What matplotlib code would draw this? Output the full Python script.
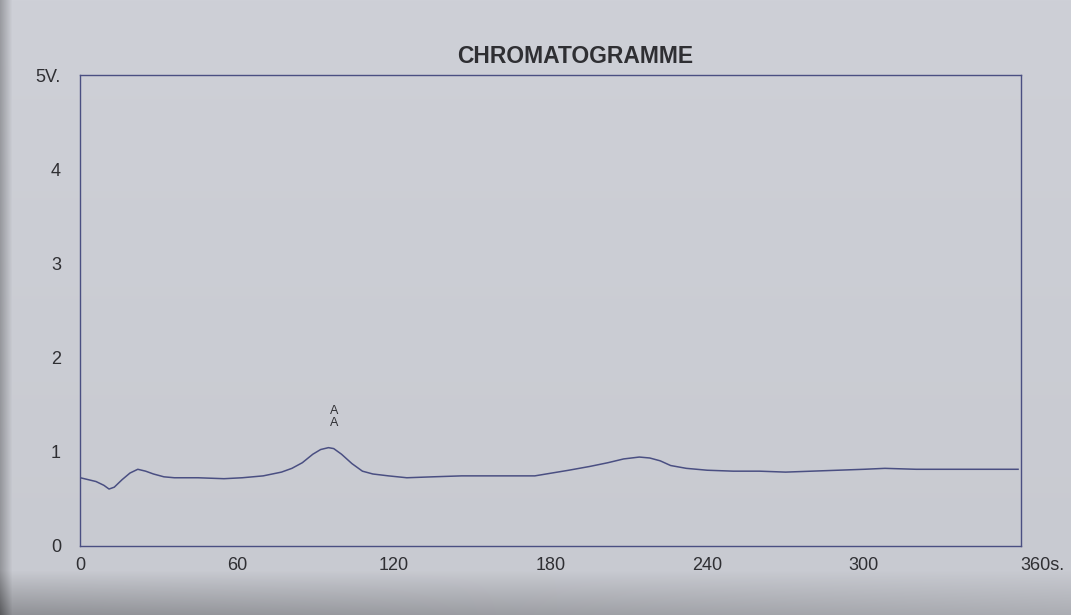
import numpy as np
import matplotlib.pyplot as plt
from matplotlib.transforms import ScaledTranslation

# retention time (s) and detector signal (V)
temps = [0, 3, 6, 9, 11, 13, 16, 19, 22, 25, 28, 32, 36, 45, 55, 62, 70, 77, 81,
         85, 89, 92, 95, 97, 100, 104, 108, 112, 118, 125, 135, 146, 160, 174,
         187, 195, 202, 208, 214, 218, 222, 226, 232, 240, 250, 260, 270, 280,
         290, 300, 308, 320, 335, 350, 359]
signal = [0.72, 0.70, 0.68, 0.64, 0.60, 0.62, 0.70, 0.77, 0.81, 0.79, 0.76, 0.73,
          0.72, 0.72, 0.71, 0.72, 0.74, 0.78, 0.82, 0.88, 0.97, 1.02, 1.04, 1.03,
          0.97, 0.87, 0.79, 0.76, 0.74, 0.72, 0.73, 0.74, 0.74, 0.74, 0.80, 0.84,
          0.88, 0.92, 0.94, 0.93, 0.90, 0.85, 0.82, 0.80, 0.79, 0.79, 0.78, 0.79,
          0.80, 0.81, 0.82, 0.81, 0.81, 0.81, 0.81]

x_ticks = [0, 60, 120, 180, 240, 300, 360]
x_labels = ["0", "60", "120", "180", "240", "300", "360s."]
y_ticks = [0, 1, 2, 3, 4, 5]
y_labels = ["0", "1", "2", "3", "4", "5V."]

pic_time = 97
pic_label = "A\nA"

ink = "#4a4f82"
text_col = "#2f2f33"

plt.rcParams["font.family"] = ["Liberation Sans", "DejaVu Sans"]

W, H = 1071, 615
fig = plt.figure(figsize=(W / 100, H / 100), dpi=100)

# paper background, a little darker toward the bottom edge and the left border
bg = fig.add_axes([0, 0, 1, 1], zorder=-1)
yy, xx = np.mgrid[0:H, 0:W]
base = np.array([206, 208, 215]) / 255
shade = np.clip((yy - 570) / 45, 0, 1) * (0.28 - 0.14 * xx / W)
shade += np.clip((12 - xx) / 12, 0, 1) * 0.25
shade += 0.03 * (yy / H)
img = base[None, None, :] * (1 - shade[..., None])
bg.imshow(img, aspect="auto", interpolation="bilinear")
bg.set_axis_off()

ax = fig.add_axes([0.075, 0.113, 0.878, 0.765])
ax.set_facecolor("none")

ax.plot(temps, signal, color=ink, lw=1.1)

ax.set_xlim(0, 360)
ax.set_ylim(0, 5)
ax.set_xticks(x_ticks)
ax.set_xticklabels(x_labels)
ax.set_yticks(y_ticks)
ax.set_yticklabels(y_labels)
ax.tick_params(length=0, labelsize=13, colors=text_col)
ax.tick_params(axis="x", pad=8)
ax.tick_params(axis="y", pad=14)
ax.get_xticklabels()[-1].set_transform(
    ax.get_xticklabels()[-1].get_transform()
    + ScaledTranslation(0.22, 0, fig.dpi_scale_trans))
for s in ax.spines.values():
    s.set_color(ink)
    s.set_linewidth(1.0)

ax.text(pic_time, max(signal) + 0.2, pic_label, ha="center", va="bottom",
        fontsize=9, color=text_col, linespacing=0.95)

fig.text(0.537, 0.898, "CHROMATOGRAMME", ha="center", va="baseline",
         fontsize=16.5, fontweight="bold", color=text_col)

fig.savefig("out.png", dpi=100)
